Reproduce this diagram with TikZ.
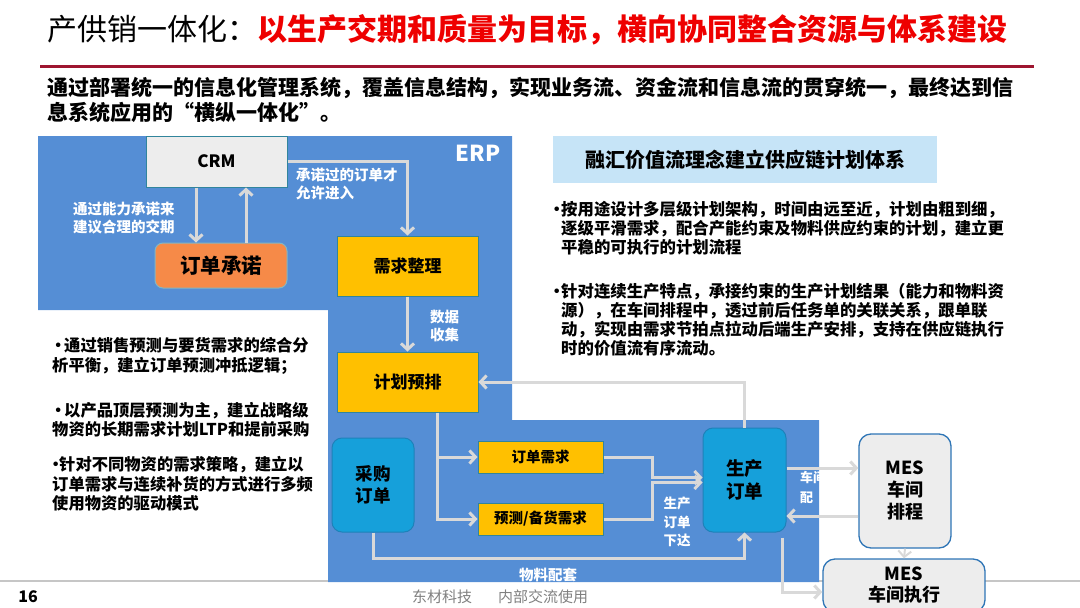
\documentclass[tikz,border=0pt]{standalone}
\usepackage{fontspec}
\setmainfont{Noto Sans CJK SC}
\usetikzlibrary{arrows.meta,positioning}
\definecolor{erpblue}{RGB}{85,142,213}
\definecolor{boxcyan}{RGB}{22,160,218}
\definecolor{cyanline}{RGB}{30,130,185}
\definecolor{boxyellow}{RGB}{255,192,0}
\definecolor{tealline}{RGB}{49,133,156}
\definecolor{boxorange}{RGB}{246,138,72}
\definecolor{boxgray}{RGB}{237,237,237}
\definecolor{mesline}{RGB}{46,117,182}
\definecolor{flowgray}{RGB}{217,217,217}
\definecolor{titlered}{RGB}{238,0,0}
\definecolor{rulered}{RGB}{158,22,48}
\definecolor{headblue}{RGB}{198,228,247}
\definecolor{footgray}{RGB}{128,128,128}
\newcommand{\setfs}[2]{\fontsize{#1}{#2}\selectfont}
\newcommand{\dotb}[1]{\makebox[#1]{·}}

\begin{document}
\begin{tikzpicture}[x=1pt,y=-1pt,
    flow/.style={draw=flowgray,line width=3pt,-{Straight Barb[length=6pt,width=13pt]}},
    plain/.style={draw=flowgray,line width=3pt},
    yel/.style={draw=tealline,line width=1pt,fill=boxyellow,inner sep=0pt,font=\bfseries\setfs{17}{20}},
    cyanbox/.style={draw=cyanline,line width=1pt,fill=boxcyan,rounded corners=10pt,inner sep=0pt,align=center,font=\bfseries\setfs{18.5}{23}},
    mesbox/.style={draw=mesline,line width=1.3pt,fill=boxgray,rounded corners=12pt,inner sep=0pt,align=center,font=\bfseries\setfs{18}{22}},
    wlabel/.style={text=white,font=\bfseries\setfs{14.5}{18},align=left,inner sep=0pt}]
    \useasboundingbox (0,0) rectangle (1080,608);

    % heading
    \node[anchor=west,inner sep=0pt,font=\setfs{30}{35}] (title) at (47,30)
        {产供销一体化：\textcolor{titlered}{\bfseries 以生产交期和质量为目标，横向协同整合资源与体系建设}};
    \draw[rulered,line width=3pt] (40,66) -- (1034,66);
    \node[anchor=west,align=left,inner sep=0pt,font=\bfseries\setfs{21}{25}] (intro) at (47,99.5)
        {通过部署统一的信息化管理系统，覆盖信息结构，实现业务流、资金流和信息流的贯穿统一，最终达到信\\息系统应用的“横纵一体化”。};

    % footer
    \draw[gray!45,line width=1.5pt] (0,581) -- (1080,581);
    \node[inner sep=0pt,font=\bfseries\setfs{16}{19}] (pg) at (28,597) {16};
    \node[anchor=west,inner sep=0pt,text=footgray,font=\setfs{15}{18}] (foot) at (412,597) {东材科技\hspace{26pt}内部交流使用};

    % ERP area
    \fill[erpblue] (38,136) -- (512,136) -- (512,420) -- (819,420) -- (819,582)
        -- (328,582) -- (328,310) -- (38,310) -- cycle;
    \node[text=white,inner sep=0pt,font=\bfseries\setfs{22}{26}] (erp) at (478,153) {ERP};

    \node[draw=tealline,line width=1pt,fill=boxgray,minimum width=141pt,minimum height=51pt,inner sep=0pt,
        font=\bfseries\setfs{17}{20}] (crm) at (216.5,161.5) {CRM};
    \node[draw=tealline!60,line width=1pt,fill=boxorange,rounded corners=8pt,minimum width=132pt,minimum height=45pt,
        inner sep=0pt,font=\bfseries\setfs{20.5}{24}] (ddcn) at (221,265.5) {订单承诺};
    \node[yel,minimum width=141pt,minimum height=60pt] (xqzl) at (407.5,266) {需求整理};
    \node[yel,minimum width=141pt,minimum height=60pt,below=55pt of xqzl] (jhyp) {计划预排};
    \node[yel,font=\bfseries\setfs{14.5}{17},minimum width=125pt,minimum height=32pt] (ddxq) at (540.5,457) {订单需求};
    \node[yel,font=\bfseries\setfs{14.5}{17},minimum width=125pt,minimum height=32pt,below=29pt of ddxq] (ycbh) {预测/备货需求};
    \node[cyanbox,minimum width=83pt,minimum height=104pt] (scdd) at (744.5,480) {生产\\订单};
    \node[cyanbox,font=\bfseries\setfs{17.5}{22},minimum width=82pt,minimum height=94pt] (cgdd) at (373,485) {采购\\订单};
    \node[mesbox,minimum width=92pt,minimum height=114pt] (mespc) at (905,491) {MES\\车间\\排程};
    \node[mesbox,font=\bfseries\setfs{18}{21},minimum width=162pt,minimum height=53pt] (meszx) at (904,585.5) {MES\\车间执行};

    \node[wlabel,anchor=west] (lbjq) at (73,218) {通过能力承诺来\\建议合理的交期};
    \node[wlabel,anchor=west] (lbjr) at (296,184) {承诺过的订单才\\允许进入};
    \node[wlabel,anchor=west] (lbsj) at (430,326) {数据\\收集};
    \node[wlabel,align=center,font=\bfseries\setfs{13.5}{18.5}] (lbxd) at (677,522) {生产\\订单\\下达};
    \node[wlabel] (lbpt) at (548,575) {物料配套};
    \node[wlabel,anchor=west,font=\bfseries\setfs{13}{20}] (lbps) at (800,487) {车间\\配};

    % flows
    \draw[flow] ([xshift=-20.5pt]crm.south) -- ([xshift=-25pt]ddcn.north);
    \draw[flow] ([xshift=25pt]ddcn.north) -- ([xshift=29.5pt]crm.south);
    \draw[flow] (crm.east) -| (xqzl.north);
    \draw[flow] (xqzl.south) -- (jhyp.north);
    \draw[flow] (scdd.north) |- (jhyp.east);
    \coordinate (br) at ([xshift=29.5pt]jhyp.south);
    \draw[flow] (br) |- (ycbh.west);
    \draw[flow] (br |- ddxq.west) -- (ddxq.west);
    \draw[flow] (ddxq.east) -- ++(49,0) |- ([yshift=2.5pt]scdd.west);
    \draw[flow] (ycbh.east) -- ++(49,0) |- ([yshift=-2.5pt]scdd.west);
    \draw[flow] (cgdd.south) -- ++(0,26) -| (scdd.south);
    \coordinate (s1) at ([yshift=12pt]scdd.east);
    \coordinate (s2) at ([yshift=-36pt]scdd.east);
    \draw[flow] (s1) -- (s1 -| mespc.west);
    \draw[flow] (s2 -| mespc.west) -- (s2);
    \draw[flow,line width=2pt] (mespc.south) -- (meszx.north);
    \draw[flow] ([xshift=37.5pt,yshift=-5pt]scdd.south) |- ([yshift=-6.5pt]meszx.west);

    % text panels
    \node[fill=headblue,minimum width=384pt,minimum height=47pt,font=\bfseries\setfs{20}{24}] (head) at (745,159.5)
        {融汇价值流理念建立供应链计划体系};
    \node[anchor=west,align=left,inner sep=0pt,font=\bfseries\setfs{16.4}{19}] (rtxt) at (552,279)
        {\dotb{9pt}按用途设计多层级计划架构，时间由远至近，计划由粗到细，\\
         \hspace{9pt}逐级平滑需求，配合产能约束及物料供应约束的计划，建立更\\
         \hspace{9pt}平稳的可执行的计划流程\\[25pt]
         \dotb{9pt}针对连续生产特点，承接约束的生产计划结果（能力和物料资\\
         \hspace{9pt}源），在车间排程中，透过前后任务单的关联关系，跟单联\\
         \hspace{9pt}动，实现由需求节拍点拉动后端生产安排，支持在供应链执行\\
         \hspace{9pt}时的价值流有序流动。};
    \node[anchor=west,align=left,inner sep=0pt,font=\bfseries\setfs{16.3}{19.5}] (ltxt) at (52,424.5)
        {\dotb{12pt}通过销售预测与要货需求的综合分\\
         析平衡，建立订单预测冲抵逻辑；\\[25.5pt]
         \dotb{12pt}以产品顶层预测为主，建立战略级\\
         物资的长期需求计划LTP和提前采购\\[15.5pt]
         \dotb{7pt}针对不同物资的需求策略，建立以\\
         订单需求与连续补货的方式进行多频\\
         使用物资的驱动模式};
\end{tikzpicture}
\end{document}
